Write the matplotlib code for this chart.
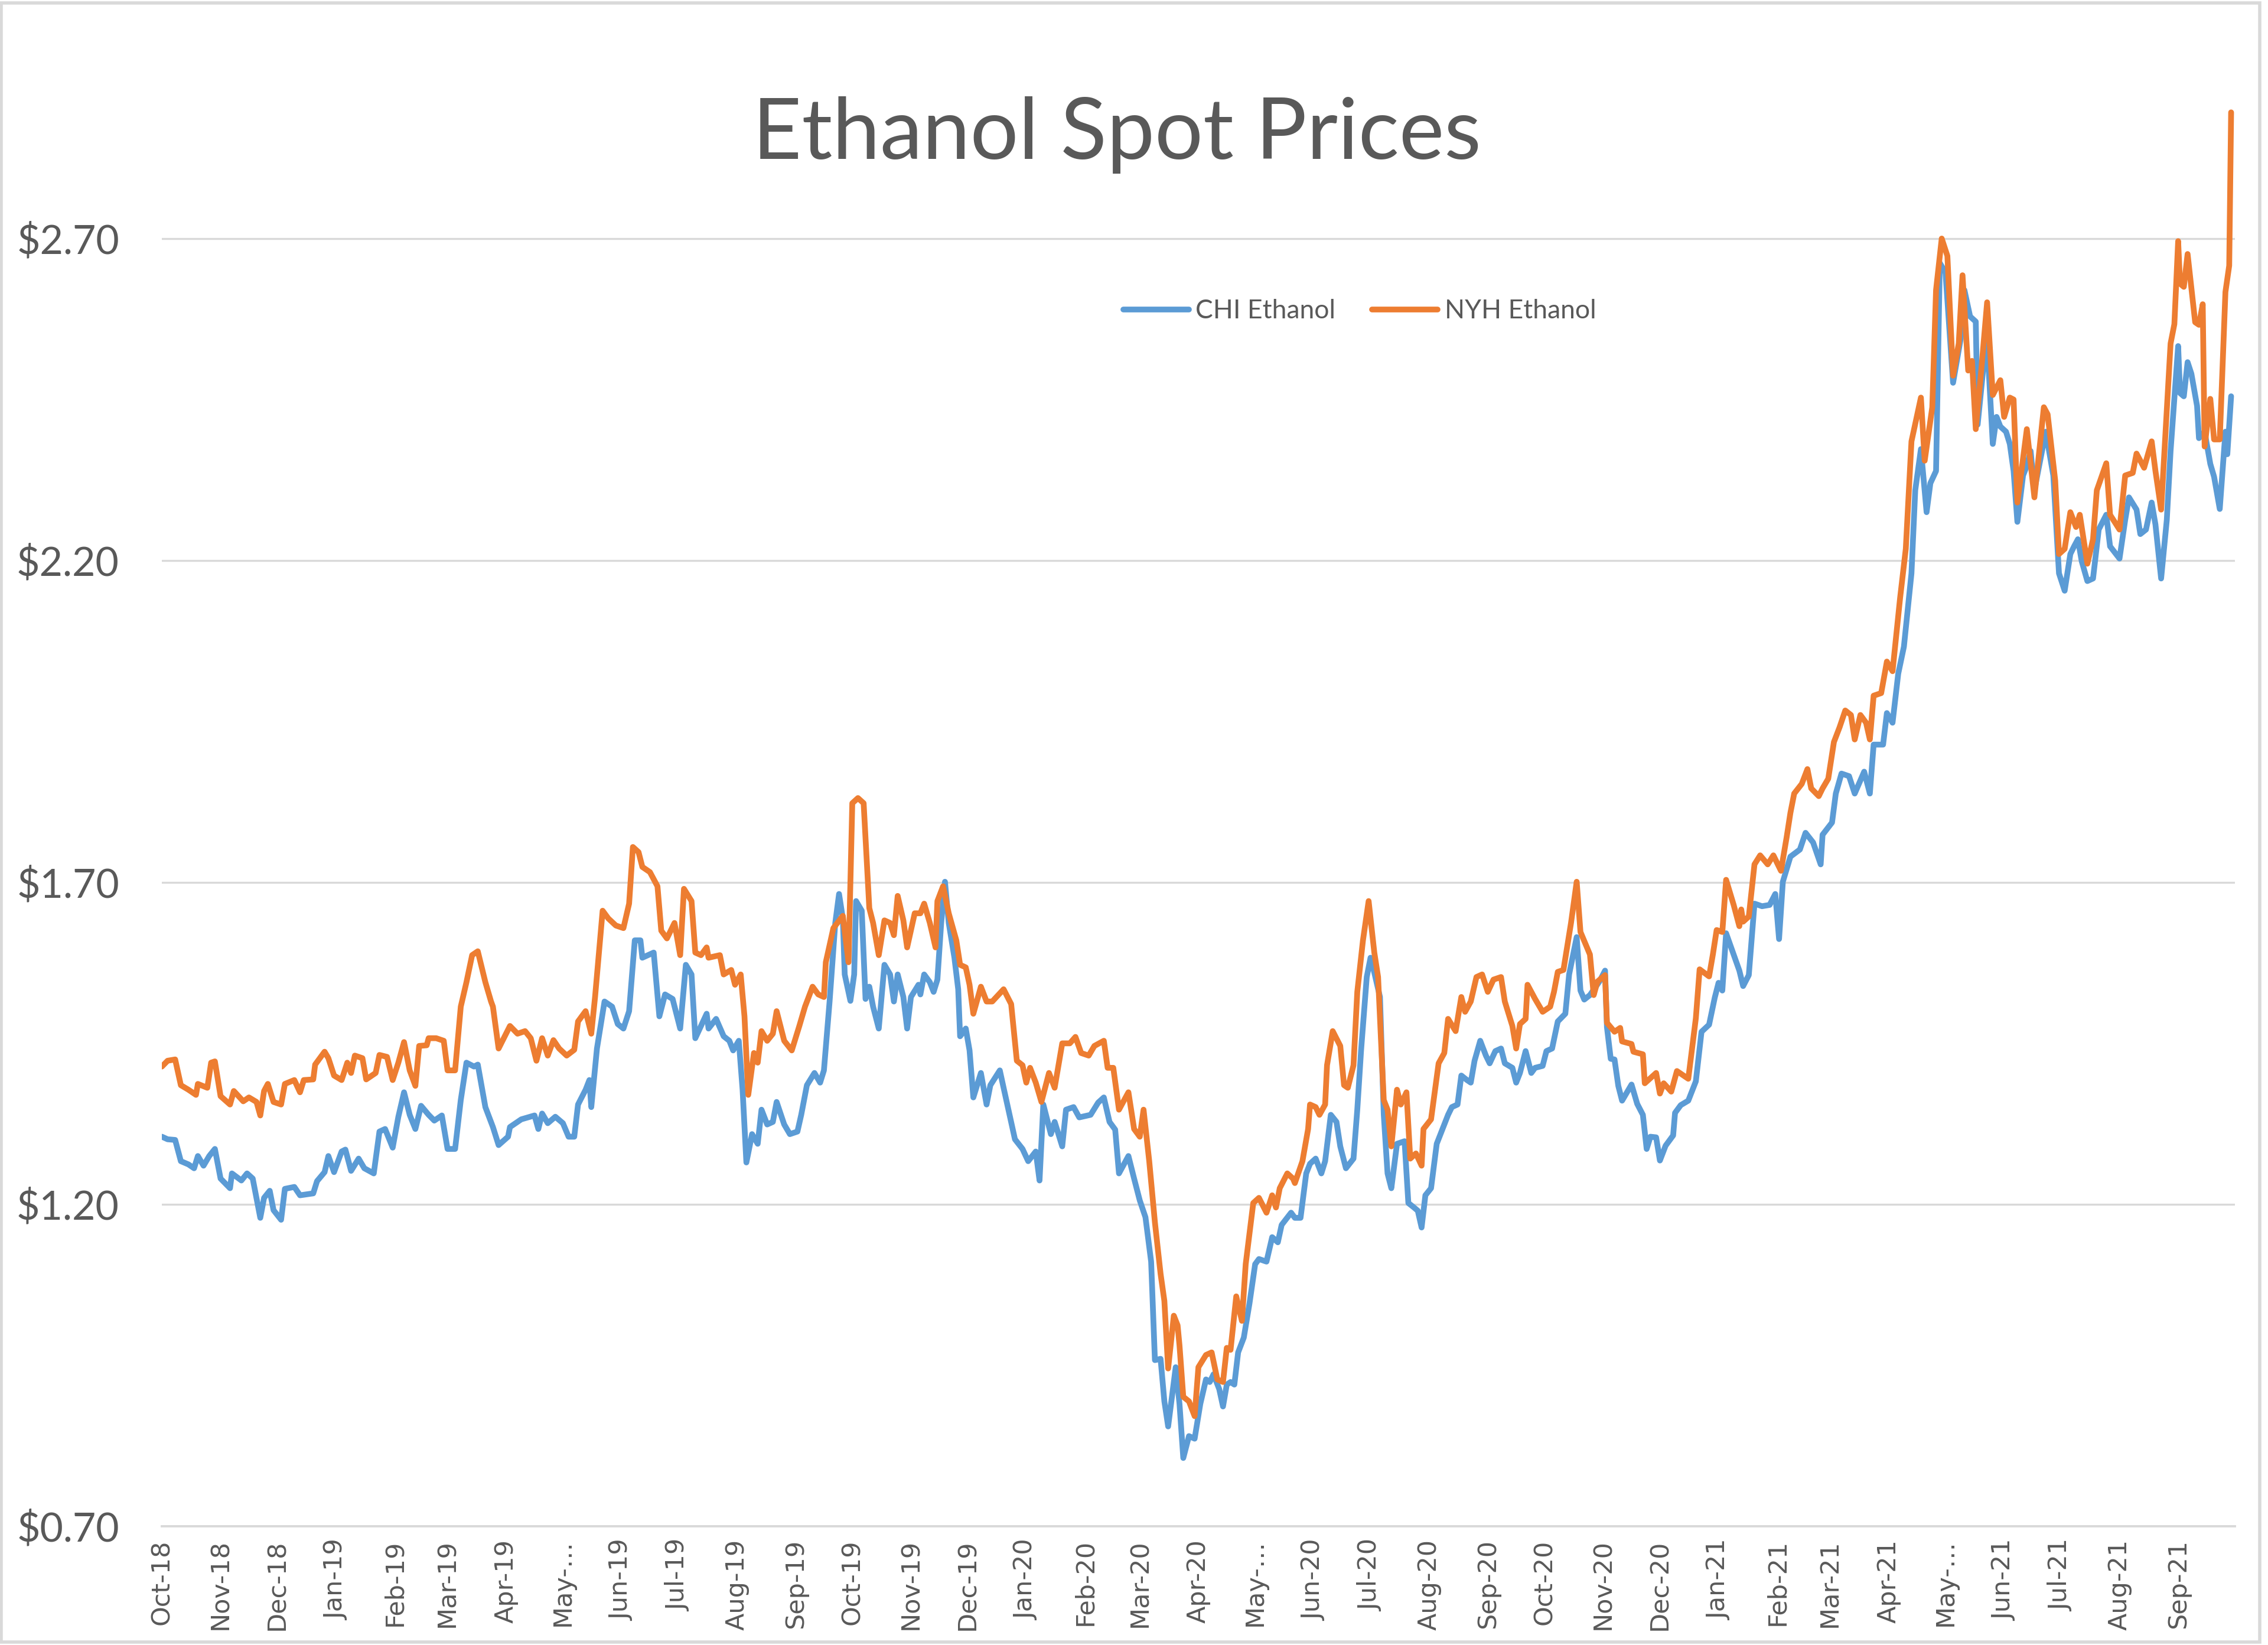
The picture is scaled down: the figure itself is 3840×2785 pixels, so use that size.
import matplotlib
matplotlib.use("Agg")
import matplotlib.pyplot as plt
from matplotlib.patches import Rectangle
import pandas as pd

# ---------------- data ----------------
chi_dates = [
    "2018-10-01", "2018-10-04", "2018-10-08", "2018-10-11", "2018-10-15", "2018-10-18", "2018-10-20",
    "2018-10-23", "2018-10-26", "2018-10-29", "2018-11-01", "2018-11-06", "2018-11-07", "2018-11-12",
    "2018-11-15", "2018-11-18", "2018-11-22", "2018-11-24", "2018-11-27", "2018-11-29", "2018-12-03",
    "2018-12-05", "2018-12-10", "2018-12-13", "2018-12-20", "2018-12-22", "2018-12-26", "2018-12-28",
    "2018-12-31", "2019-01-04", "2019-01-06", "2019-01-09", "2019-01-13", "2019-01-16", "2019-01-21",
    "2019-01-24", "2019-01-27", "2019-01-31", "2019-02-03", "2019-02-06", "2019-02-09", "2019-02-12",
    "2019-02-15", "2019-02-19", "2019-02-22", "2019-02-26", "2019-03-01", "2019-03-05", "2019-03-08",
    "2019-03-11", "2019-03-15", "2019-03-17", "2019-03-21", "2019-03-25", "2019-03-28", "2019-04-02",
    "2019-04-03", "2019-04-09", "2019-04-16", "2019-04-18", "2019-04-20", "2019-04-23", "2019-04-27",
    "2019-05-01", "2019-05-04", "2019-05-07", "2019-05-09", "2019-05-13", "2019-05-15", "2019-05-16",
    "2019-05-19", "2019-05-23", "2019-05-27", "2019-05-30", "2019-06-02", "2019-06-05", "2019-06-08",
    "2019-06-11", "2019-06-12", "2019-06-18", "2019-06-21", "2019-06-24", "2019-06-28", "2019-07-02",
    "2019-07-05", "2019-07-08", "2019-07-10", "2019-07-13", "2019-07-16", "2019-07-17", "2019-07-21",
    "2019-07-25", "2019-07-28", "2019-07-30", "2019-08-02", "2019-08-04", "2019-08-06", "2019-08-09",
    "2019-08-12", "2019-08-14", "2019-08-17", "2019-08-20", "2019-08-22", "2019-08-26", "2019-08-29",
    "2019-09-02", "2019-09-04", "2019-09-07", "2019-09-11", "2019-09-14", "2019-09-16", "2019-09-19",
    "2019-09-22", "2019-09-24", "2019-09-26", "2019-09-27", "2019-09-30", "2019-10-02", "2019-10-03",
    "2019-10-06", "2019-10-08", "2019-10-10", "2019-10-12", "2019-10-15", "2019-10-18", "2019-10-21",
    "2019-10-23", "2019-10-25", "2019-10-28", "2019-10-30", "2019-11-01", "2019-11-05", "2019-11-06",
    "2019-11-08", "2019-11-11", "2019-11-13", "2019-11-15", "2019-11-17", "2019-11-19", "2019-11-21",
    "2019-11-24", "2019-11-26", "2019-11-27", "2019-11-30", "2019-12-02", "2019-12-04", "2019-12-08",
    "2019-12-11", "2019-12-13", "2019-12-18", "2019-12-20", "2019-12-26", "2019-12-30", "2020-01-02",
    "2020-01-06", "2020-01-08", "2020-01-10", "2020-01-14", "2020-01-16", "2020-01-20", "2020-01-22",
    "2020-01-26", "2020-01-29", "2020-02-04", "2020-02-08", "2020-02-11", "2020-02-14", "2020-02-17",
    "2020-02-19", "2020-02-24", "2020-02-27", "2020-03-01", "2020-03-04", "2020-03-07", "2020-03-09",
    "2020-03-12", "2020-03-14", "2020-03-16", "2020-03-20", "2020-03-22", "2020-03-24", "2020-03-27",
    "2020-03-30", "2020-04-02", "2020-04-05", "2020-04-07", "2020-04-09", "2020-04-12", "2020-04-14",
    "2020-04-16", "2020-04-18", "2020-04-20", "2020-04-22", "2020-04-25", "2020-04-28", "2020-05-01",
    "2020-05-03", "2020-05-07", "2020-05-10", "2020-05-13", "2020-05-15", "2020-05-20", "2020-05-22",
    "2020-05-25", "2020-05-28", "2020-05-30", "2020-06-02", "2020-06-05", "2020-06-07", "2020-06-10",
    "2020-06-13", "2020-06-15", "2020-06-18", "2020-06-22", "2020-06-24", "2020-06-26", "2020-06-29",
    "2020-07-01", "2020-07-03", "2020-07-06", "2020-07-08", "2020-07-10", "2020-07-12", "2020-07-15",
    "2020-07-19", "2020-07-21", "2020-07-24", "2020-07-26", "2020-07-28", "2020-07-30", "2020-08-02",
    "2020-08-05", "2020-08-07", "2020-08-11", "2020-08-13", "2020-08-16", "2020-08-18", "2020-08-21",
    "2020-08-23", "2020-08-25", "2020-08-28", "2020-08-31", "2020-09-02", "2020-09-05", "2020-09-08",
    "2020-09-10", "2020-09-14", "2020-09-16", "2020-09-18", "2020-09-21", "2020-09-24", "2020-09-26",
    "2020-09-30", "2020-10-02", "2020-10-05", "2020-10-08", "2020-10-12", "2020-10-14", "2020-10-18",
    "2020-10-20", "2020-10-22", "2020-10-25", "2020-10-30", "2020-11-02", "2020-11-03", "2020-11-05",
    "2020-11-07", "2020-11-09", "2020-11-11", "2020-11-16", "2020-11-19", "2020-11-22", "2020-11-24",
    "2020-11-26", "2020-11-29", "2020-12-01", "2020-12-04", "2020-12-08", "2020-12-09", "2020-12-12",
    "2020-12-16", "2020-12-20", "2020-12-23", "2020-12-27", "2020-12-30", "2021-01-01", "2021-01-03",
    "2021-01-05", "2021-01-09", "2021-01-12", "2021-01-14", "2021-01-17", "2021-01-20", "2021-01-24",
    "2021-01-28", "2021-01-31", "2021-02-02", "2021-02-04", "2021-02-08", "2021-02-13", "2021-02-16",
    "2021-02-20", "2021-02-24", "2021-02-25", "2021-03-02", "2021-03-04", "2021-03-07", "2021-03-11",
    "2021-03-14", "2021-03-19", "2021-03-22", "2021-03-24", "2021-03-29", "2021-03-31", "2021-04-03",
    "2021-04-06", "2021-04-09", "2021-04-13", "2021-04-15", "2021-04-18", "2021-04-21", "2021-04-23",
    "2021-04-26", "2021-04-28", "2021-05-01", "2021-05-05", "2021-05-09", "2021-05-11", "2021-05-14",
    "2021-05-17", "2021-05-18", "2021-05-21", "2021-05-23", "2021-05-26", "2021-05-28", "2021-05-30",
    "2021-06-02", "2021-06-04", "2021-06-06", "2021-06-08", "2021-06-11", "2021-06-13", "2021-06-15",
    "2021-06-17", "2021-06-21", "2021-06-23", "2021-06-27", "2021-06-30", "2021-07-03", "2021-07-06",
    "2021-07-08", "2021-07-10", "2021-07-12", "2021-07-15", "2021-07-18", "2021-07-21", "2021-07-25",
    "2021-07-27", "2021-08-01", "2021-08-04", "2021-08-06", "2021-08-10", "2021-08-12", "2021-08-15",
    "2021-08-18", "2021-08-20", "2021-08-23", "2021-08-26", "2021-08-28", "2021-09-01", "2021-09-02",
    "2021-09-04", "2021-09-06", "2021-09-08", "2021-09-11", "2021-09-12", "2021-09-15", "2021-09-18",
    "2021-09-20", "2021-09-23", "2021-09-26", "2021-09-27", "2021-09-29",
]
chi_values = [
    1.305, 1.301, 1.300, 1.267, 1.262, 1.256, 1.275,
    1.260, 1.275, 1.286, 1.240, 1.225, 1.248, 1.237,
    1.248, 1.240, 1.179, 1.210, 1.221, 1.191, 1.176,
    1.224, 1.227, 1.214, 1.217, 1.236, 1.250, 1.275,
    1.250, 1.282, 1.285, 1.252, 1.271, 1.256, 1.248,
    1.313, 1.317, 1.288, 1.336, 1.374, 1.339, 1.317,
    1.353, 1.339, 1.330, 1.338, 1.286, 1.286, 1.362,
    1.420, 1.414, 1.417, 1.351, 1.320, 1.292, 1.305,
    1.320, 1.332, 1.338, 1.317, 1.341, 1.326, 1.336,
    1.326, 1.305, 1.305, 1.355, 1.378, 1.393, 1.351,
    1.442, 1.515, 1.507, 1.480, 1.473, 1.500, 1.610,
    1.610, 1.583, 1.591, 1.492, 1.526, 1.519, 1.473,
    1.572, 1.557, 1.458, 1.477, 1.496, 1.473, 1.488,
    1.461, 1.454, 1.439, 1.454, 1.378, 1.265, 1.309,
    1.294, 1.347, 1.324, 1.328, 1.359, 1.324, 1.309,
    1.313, 1.339, 1.385, 1.404, 1.389, 1.408, 1.515,
    1.637, 1.682, 1.644, 1.557, 1.516, 1.557, 1.671,
    1.656, 1.519, 1.538, 1.507, 1.473, 1.572, 1.557,
    1.515, 1.557, 1.522, 1.473, 1.522, 1.541, 1.526,
    1.557, 1.545, 1.530, 1.549, 1.637, 1.701, 1.637,
    1.583, 1.534, 1.461, 1.473, 1.439, 1.366, 1.404,
    1.355, 1.385, 1.408, 1.381, 1.301, 1.286, 1.267,
    1.282, 1.237, 1.355, 1.309, 1.328, 1.290, 1.347,
    1.351, 1.335, 1.339, 1.358, 1.366, 1.328, 1.316,
    1.248, 1.275, 1.240, 1.206, 1.180, 1.111, 0.958,
    0.960, 0.894, 0.855, 0.947, 0.890, 0.806, 0.840,
    0.836, 0.890, 0.928, 0.924, 0.936, 0.913, 0.886,
    0.920, 0.924, 0.920, 0.970, 0.993, 1.046, 1.107,
    1.115, 1.111, 1.149, 1.141, 1.168, 1.187, 1.179,
    1.179, 1.248, 1.263, 1.271, 1.248, 1.267, 1.339,
    1.328, 1.290, 1.256, 1.271, 1.347, 1.439, 1.553,
    1.583, 1.560, 1.522, 1.339, 1.248, 1.225, 1.294,
    1.298, 1.202, 1.195, 1.190, 1.164, 1.214, 1.225,
    1.294, 1.309, 1.339, 1.351, 1.355, 1.400, 1.393,
    1.389, 1.423, 1.454, 1.431, 1.419, 1.438, 1.442,
    1.419, 1.412, 1.389, 1.404, 1.438, 1.404, 1.412,
    1.415, 1.438, 1.442, 1.484, 1.496, 1.557, 1.615,
    1.532, 1.518, 1.525, 1.546, 1.563, 1.475, 1.426,
    1.425, 1.384, 1.361, 1.386, 1.356, 1.339, 1.286,
    1.305, 1.304, 1.268, 1.291, 1.307, 1.342, 1.354,
    1.361, 1.391, 1.468, 1.479, 1.521, 1.544, 1.532,
    1.621, 1.588, 1.563, 1.539, 1.556, 1.667, 1.663,
    1.665, 1.682, 1.612, 1.701, 1.740, 1.751, 1.777,
    1.762, 1.728, 1.774, 1.793, 1.838, 1.869, 1.865,
    1.838, 1.872, 1.838, 1.914, 1.914, 1.963, 1.948,
    2.024, 2.066, 2.180, 2.309, 2.373, 2.275, 2.320,
    2.339, 2.662, 2.647, 2.476, 2.544, 2.620, 2.579,
    2.571, 2.411, 2.499, 2.541, 2.381, 2.423, 2.408,
    2.400, 2.381, 2.339, 2.260, 2.332, 2.347, 2.370,
    2.309, 2.370, 2.400, 2.332, 2.180, 2.153, 2.210,
    2.222, 2.233, 2.199, 2.168, 2.172, 2.248, 2.271,
    2.222, 2.203, 2.263, 2.298, 2.279, 2.241, 2.248,
    2.290, 2.256, 2.172, 2.263, 2.370, 2.533, 2.460,
    2.455, 2.508, 2.490, 2.440, 2.390, 2.400, 2.350,
    2.330, 2.280, 2.400, 2.365, 2.455,
]

nyh_dates = [
    "2018-10-01", "2018-10-04", "2018-10-08", "2018-10-11", "2018-10-15", "2018-10-19", "2018-10-20",
    "2018-10-25", "2018-10-27", "2018-10-29", "2018-11-01", "2018-11-06", "2018-11-08", "2018-11-13",
    "2018-11-16", "2018-11-20", "2018-11-22", "2018-11-24", "2018-11-26", "2018-11-29", "2018-12-03",
    "2018-12-05", "2018-12-10", "2018-12-13", "2018-12-15", "2018-12-20", "2018-12-21", "2018-12-26",
    "2018-12-28", "2018-12-31", "2019-01-04", "2019-01-07", "2019-01-09", "2019-01-11", "2019-01-15",
    "2019-01-17", "2019-01-22", "2019-01-24", "2019-01-28", "2019-01-31", "2019-02-03", "2019-02-06",
    "2019-02-09", "2019-02-12", "2019-02-14", "2019-02-18", "2019-02-19", "2019-02-23", "2019-02-27",
    "2019-03-01", "2019-03-05", "2019-03-08", "2019-03-11", "2019-03-14", "2019-03-17", "2019-03-21",
    "2019-03-24", "2019-03-25", "2019-03-28", "2019-04-03", "2019-04-07", "2019-04-11", "2019-04-14",
    "2019-04-17", "2019-04-20", "2019-04-23", "2019-04-26", "2019-04-29", "2019-05-03", "2019-05-07",
    "2019-05-09", "2019-05-13", "2019-05-16", "2019-05-18", "2019-05-22", "2019-05-25", "2019-05-29",
    "2019-06-02", "2019-06-05", "2019-06-07", "2019-06-10", "2019-06-12", "2019-06-16", "2019-06-20",
    "2019-06-22", "2019-06-25", "2019-06-29", "2019-07-02", "2019-07-04", "2019-07-08", "2019-07-10",
    "2019-07-13", "2019-07-16", "2019-07-17", "2019-07-23", "2019-07-25", "2019-07-29", "2019-07-31",
    "2019-08-03", "2019-08-05", "2019-08-07", "2019-08-10", "2019-08-12", "2019-08-14", "2019-08-17",
    "2019-08-20", "2019-08-22", "2019-08-26", "2019-08-30", "2019-09-03", "2019-09-06", "2019-09-10",
    "2019-09-13", "2019-09-16", "2019-09-17", "2019-09-21", "2019-09-26", "2019-09-29", "2019-10-01",
    "2019-10-04", "2019-10-07", "2019-10-10", "2019-10-12", "2019-10-15", "2019-10-18", "2019-10-21",
    "2019-10-23", "2019-10-25", "2019-10-28", "2019-10-30", "2019-11-03", "2019-11-06", "2019-11-08",
    "2019-11-11", "2019-11-14", "2019-11-15", "2019-11-18", "2019-11-21", "2019-11-25", "2019-11-27",
    "2019-11-30", "2019-12-02", "2019-12-04", "2019-12-08", "2019-12-11", "2019-12-14", "2019-12-20",
    "2019-12-24", "2019-12-27", "2019-12-30", "2020-01-01", "2020-01-03", "2020-01-06", "2020-01-09",
    "2020-01-13", "2020-01-16", "2020-01-20", "2020-01-24", "2020-01-27", "2020-01-30", "2020-02-03",
    "2020-02-06", "2020-02-11", "2020-02-13", "2020-02-16", "2020-02-19", "2020-02-24", "2020-02-27",
    "2020-03-01", "2020-03-03", "2020-03-06", "2020-03-09", "2020-03-12", "2020-03-14", "2020-03-16",
    "2020-03-19", "2020-03-21", "2020-03-22", "2020-03-24", "2020-03-27", "2020-03-30", "2020-04-01",
    "2020-04-05", "2020-04-08", "2020-04-11", "2020-04-14", "2020-04-16", "2020-04-18", "2020-04-21",
    "2020-04-24", "2020-04-26", "2020-04-30", "2020-05-03", "2020-05-07", "2020-05-10", "2020-05-12",
    "2020-05-14", "2020-05-18", "2020-05-21", "2020-05-22", "2020-05-26", "2020-05-29", "2020-05-30",
    "2020-06-02", "2020-06-04", "2020-06-07", "2020-06-08", "2020-06-11", "2020-06-15", "2020-06-17",
    "2020-06-19", "2020-06-22", "2020-06-24", "2020-06-27", "2020-06-30", "2020-07-03", "2020-07-05",
    "2020-07-08", "2020-07-10", "2020-07-12", "2020-07-15", "2020-07-17", "2020-07-20", "2020-07-22",
    "2020-07-25", "2020-07-28", "2020-07-29", "2020-08-02", "2020-08-06", "2020-08-09", "2020-08-11",
    "2020-08-15", "2020-08-18", "2020-08-20", "2020-08-23", "2020-08-26", "2020-08-29", "2020-09-01",
    "2020-09-04", "2020-09-08", "2020-09-10", "2020-09-14", "2020-09-16", "2020-09-18", "2020-09-21",
    "2020-09-22", "2020-09-26", "2020-09-30", "2020-10-04", "2020-10-06", "2020-10-08", "2020-10-11",
    "2020-10-15", "2020-10-18", "2020-10-20", "2020-10-25", "2020-10-27", "2020-10-29", "2020-11-02",
    "2020-11-03", "2020-11-07", "2020-11-10", "2020-11-11", "2020-11-16", "2020-11-17", "2020-11-22",
    "2020-11-23", "2020-11-29", "2020-12-01", "2020-12-03", "2020-12-07", "2020-12-10", "2020-12-16",
    "2020-12-20", "2020-12-22", "2020-12-27", "2020-12-29", "2020-12-31", "2021-01-03", "2021-01-05",
    "2021-01-09", "2021-01-12", "2021-01-13", "2021-01-14", "2021-01-17", "2021-01-20", "2021-01-23",
    "2021-01-27", "2021-01-30", "2021-02-03", "2021-02-06", "2021-02-08", "2021-02-10", "2021-02-14",
    "2021-02-17", "2021-02-19", "2021-02-23", "2021-02-25", "2021-02-28", "2021-03-03", "2021-03-06",
    "2021-03-09", "2021-03-12", "2021-03-14", "2021-03-17", "2021-03-20", "2021-03-22", "2021-03-24",
    "2021-03-28", "2021-03-31", "2021-04-03", "2021-04-07", "2021-04-10", "2021-04-13", "2021-04-18",
    "2021-04-20", "2021-04-24", "2021-04-26", "2021-04-29", "2021-05-02", "2021-05-05", "2021-05-08",
    "2021-05-10", "2021-05-13", "2021-05-15", "2021-05-17", "2021-05-20", "2021-05-23", "2021-05-26",
    "2021-05-30", "2021-06-01", "2021-06-04", "2021-06-06", "2021-06-08", "2021-06-13", "2021-06-17",
    "2021-06-22", "2021-06-24", "2021-06-28", "2021-06-30", "2021-07-03", "2021-07-06", "2021-07-09",
    "2021-07-11", "2021-07-15", "2021-07-18", "2021-07-20", "2021-07-25", "2021-07-27", "2021-08-01",
    "2021-08-04", "2021-08-08", "2021-08-10", "2021-08-14", "2021-08-18", "2021-08-20", "2021-08-23",
    "2021-08-28", "2021-08-30", "2021-09-01", "2021-09-02", "2021-09-04", "2021-09-06", "2021-09-10",
    "2021-09-12", "2021-09-14", "2021-09-15", "2021-09-18", "2021-09-20", "2021-09-23", "2021-09-26",
    "2021-09-28", "2021-09-29",
]
nyh_values = [
    1.414, 1.423, 1.425, 1.385, 1.378, 1.370, 1.387,
    1.381, 1.420, 1.422, 1.368, 1.355, 1.376, 1.360,
    1.366, 1.359, 1.338, 1.376, 1.387, 1.359, 1.355,
    1.387, 1.393, 1.374, 1.393, 1.394, 1.417, 1.437,
    1.427, 1.400, 1.393, 1.420, 1.404, 1.431, 1.427,
    1.394, 1.404, 1.432, 1.429, 1.393, 1.420, 1.452,
    1.408, 1.384, 1.446, 1.447, 1.458, 1.458, 1.454,
    1.408, 1.408, 1.507, 1.545, 1.587, 1.593, 1.545,
    1.515, 1.507, 1.442, 1.477, 1.465, 1.469, 1.458,
    1.423, 1.458, 1.431, 1.455, 1.442, 1.431, 1.440,
    1.484, 1.500, 1.465, 1.522, 1.656, 1.644, 1.633,
    1.629, 1.667, 1.755, 1.747, 1.724, 1.716, 1.694,
    1.625, 1.613, 1.637, 1.587, 1.690, 1.671, 1.591,
    1.587, 1.599, 1.583, 1.587, 1.557, 1.564, 1.541,
    1.557, 1.492, 1.370, 1.435, 1.420, 1.469, 1.454,
    1.465, 1.500, 1.454, 1.439, 1.477, 1.507, 1.538,
    1.526, 1.522, 1.576, 1.629, 1.648, 1.576, 1.823,
    1.831, 1.823, 1.660, 1.637, 1.587, 1.641, 1.637,
    1.618, 1.679, 1.641, 1.599, 1.652, 1.652, 1.667,
    1.637, 1.599, 1.671, 1.694, 1.652, 1.610, 1.572,
    1.568, 1.541, 1.496, 1.538, 1.515, 1.515, 1.534,
    1.511, 1.423, 1.416, 1.389, 1.412, 1.389, 1.359,
    1.404, 1.381, 1.450, 1.450, 1.460, 1.435, 1.431,
    1.446, 1.454, 1.412, 1.412, 1.347, 1.374, 1.317,
    1.305, 1.347, 1.267, 1.172, 1.092, 1.050, 0.945,
    1.027, 1.012, 0.981, 0.901, 0.894, 0.871, 0.947,
    0.966, 0.970, 0.928, 0.924, 0.977, 0.974, 1.057,
    1.019, 1.107, 1.202, 1.210, 1.187, 1.214, 1.195,
    1.225, 1.248, 1.240, 1.233, 1.267, 1.317, 1.355,
    1.351, 1.339, 1.355, 1.416, 1.469, 1.446, 1.385,
    1.381, 1.416, 1.530, 1.610, 1.671, 1.591, 1.553,
    1.362, 1.347, 1.290, 1.378, 1.355, 1.374, 1.271,
    1.279, 1.260, 1.317, 1.332, 1.419, 1.435, 1.488,
    1.469, 1.522, 1.499, 1.515, 1.553, 1.557, 1.530,
    1.549, 1.553, 1.515, 1.477, 1.442, 1.480, 1.488,
    1.541, 1.519, 1.499, 1.507, 1.530, 1.561, 1.564,
    1.637, 1.701, 1.623, 1.588, 1.525, 1.546, 1.556,
    1.482, 1.468, 1.474, 1.453, 1.449, 1.437, 1.433,
    1.388, 1.404, 1.372, 1.388, 1.375, 1.407, 1.395,
    1.489, 1.565, 1.554, 1.588, 1.626, 1.623, 1.704,
    1.665, 1.632, 1.658, 1.639, 1.647, 1.728, 1.742,
    1.728, 1.742, 1.718, 1.770, 1.808, 1.838, 1.853,
    1.876, 1.846, 1.834, 1.846, 1.861, 1.918, 1.941,
    1.967, 1.960, 1.922, 1.960, 1.948, 1.922, 1.990,
    1.994, 2.043, 2.028, 2.142, 2.218, 2.385, 2.453,
    2.355, 2.438, 2.620, 2.700, 2.673, 2.487, 2.537,
    2.643, 2.495, 2.510, 2.404, 2.499, 2.601, 2.457,
    2.480, 2.423, 2.453, 2.450, 2.290, 2.404, 2.298,
    2.438, 2.427, 2.324, 2.210, 2.218, 2.275, 2.252,
    2.271, 2.195, 2.233, 2.309, 2.351, 2.271, 2.248,
    2.332, 2.336, 2.366, 2.344, 2.385, 2.339, 2.279,
    2.537, 2.567, 2.696, 2.630, 2.625, 2.676, 2.570,
    2.566, 2.598, 2.377, 2.451, 2.388, 2.388, 2.617,
    2.658, 2.896,
]

series_labels = ["CHI Ethanol", "NYH Ethanol"]
y_ticks = [0.70, 1.20, 1.70, 2.20, 2.70]
x_start, x_end = "2018-10-01", "2021-10-01"
month_ticks = pd.date_range("2018-10-01", "2021-09-01", freq="MS")
title = "Ethanol Spot Prices"

# ---------------- style ----------------
BLUE = "#5B9BD5"
ORANGE = "#ED7D31"
TEXT = "#595959"
GRID = "#D9D9D9"

fig = plt.figure(figsize=(19.2, 13.925), dpi=200)
ax = fig.add_axes([0.0714, 0.0722, 0.9140, 0.9002])

ax.plot(pd.to_datetime(chi_dates), chi_values, color=BLUE, lw=3.5,
        solid_joinstyle="round", solid_capstyle="round", label=series_labels[0], zorder=3)
ax.plot(pd.to_datetime(nyh_dates), nyh_values, color=ORANGE, lw=3.5,
        solid_joinstyle="round", solid_capstyle="round", label=series_labels[1], zorder=4)

ax.set_xlim(pd.Timestamp(x_start), pd.Timestamp(x_end))
ax.set_ylim(0.70, 3.00)
ax.set_yticks(y_ticks)
ax.set_yticklabels([f"${v:.2f}" for v in y_ticks], fontfamily="Lato", fontsize=24.5, color=TEXT)
ax.grid(axis="y", color=GRID, lw=1.2)
ax.set_axisbelow(True)
for s in ["top", "right", "left"]:
    ax.spines[s].set_visible(False)
ax.spines["bottom"].set_color(GRID)
ax.spines["bottom"].set_linewidth(1.4)

ax.set_xticks(month_ticks)
ax.set_xticklabels(["May-\u2026" if d.month == 5 else d.strftime("%b-%y") for d in month_ticks],
                   rotation=90, fontfamily="DejaVu Sans", fontsize=15.5, color=TEXT)
ax.tick_params(axis="x", length=0, pad=8)
ax.tick_params(axis="y", length=0, pad=26)

leg = ax.legend(loc="center", bbox_to_anchor=(0.5995, 0.8108), bbox_transform=fig.transFigure,
                ncol=2, frameon=False, handlelength=2.5, handletextpad=0.25, columnspacing=1.4,
                prop={"family": "Lato", "size": 16})
for t in leg.get_texts():
    t.set_color(TEXT)

fig.text(0.4924, 0.9034, title, ha="center", va="baseline", fontfamily="Lato",
         fontsize=52, color=TEXT)

fig.patches.append(Rectangle((0.0006, 0.0018), 0.9958, 0.9964, transform=fig.transFigure,
                             fill=False, edgecolor=GRID, lw=2.0))

fig.savefig("out.png", dpi=200, facecolor="white")
